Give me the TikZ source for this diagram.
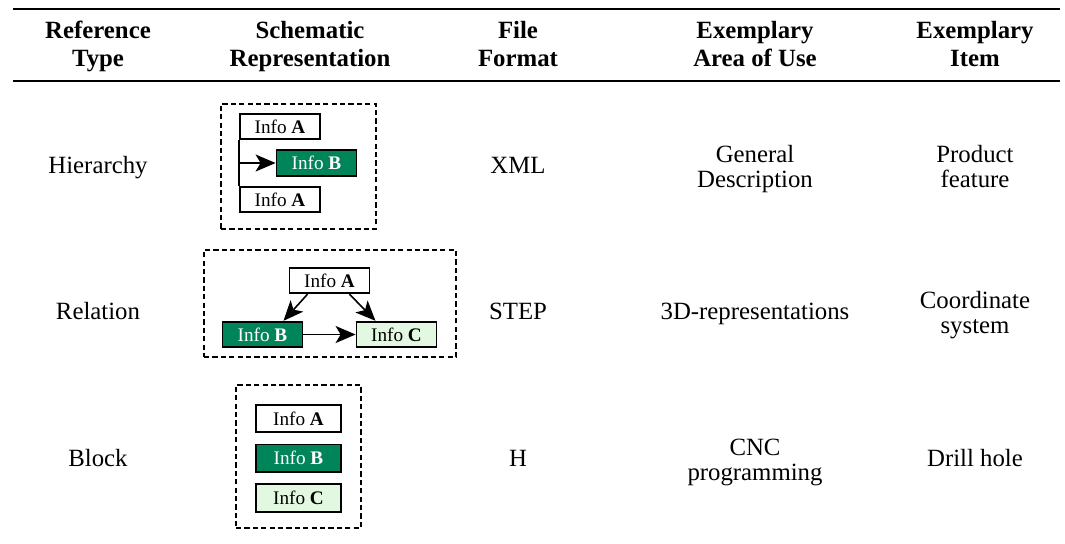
\documentclass[tikz,border=0pt]{standalone}
\usepackage{fontspec}
\setmainfont{Liberation Serif}
\usetikzlibrary{arrows.meta,positioning}
\definecolor{darkgreen}{RGB}{0,133,90}
\definecolor{palegreen}{RGB}{226,248,224}

\begin{document}
\begin{tikzpicture}[x=0.5pt,y=-0.5pt, every node/.style={align=center,font=\fontsize{12.4}{12.75}\selectfont}, cell/.style={anchor=base}, head/.style={anchor=base,font=\fontsize{12.4}{14}\selectfont\bfseries}, info/.style={draw,line width=0.9pt,minimum width=40pt,minimum height=12.8pt,inner sep=0pt,font=\fontsize{9.6}{10}\selectfont}, infoB/.style={info,fill=darkgreen,text=white}, infoC/.style={info,fill=palegreen}, frame/.style={draw,dash pattern=on 2.6pt off 1.6pt,line width=0.75pt,minimum width=#1}, arr/.style={-{Stealth[length=10pt,width=8.5pt,inset=2.5pt]},line width=0.8pt}]
\useasboundingbox (0,0) rectangle (1065,543);
% table rules
\coordinate (tl) at (13,9);\coordinate (tr) at (1060,9);
\coordinate (ml) at (13,81);\coordinate (mr) at (1060,81);
\draw[line width=1pt] (tl)--(tr);
\draw[line width=0.6pt] (ml)--(mr);
% header (anchored on the last baseline)
\node[head] (h1) at (98,66.5) {Reference\\Type};
\node[head] (h2) at (310,66.5) {Schematic\\Representation};
\node[head] (h3) at (518,66.5) {File\\Format};
\node[head] (h4) at (755,66.5) {Exemplary\\Area of Use};
\node[head] (h5) at (975,66.5) {Exemplary\\Item};
% hierarchy row
\node[cell] (t1) at (98,173) {Hierarchy};
\node[frame=77.5pt,minimum height=62.5pt] (f1) at (298.5,166.5) {};
\node[info] (a1) at (280,126.5) {Info \textbf{A}};
\node[infoB] (b1) at (316.5,163) {Info \textbf{B}};
\node[info] (a2) at (280,199.5) {Info \textbf{A}};
\draw[line width=0.8pt] (a1.south west)--(a2.north west);
\draw[arr] (a1.south west |- b1.west)--(b1.west);
\node[cell] (x1) at (518,173) {XML};
\node[cell] (u1) at (755,187.5) {General\\Description};
\node[cell] (i1) at (975,187.5) {Product\\feature};
% relation row
\node[cell] (t2) at (98,319) {Relation};
\node[frame=126pt,minimum height=53.5pt] (f2) at (330,303.5) {};
\node[info] (a3) at (329.5,280.5) {Info \textbf{A}};
\node[infoB] (b2) at (262.5,334.5) {Info \textbf{B}};
\node[infoC] (c2) at (396.5,334.5) {Info \textbf{C}};
\draw[arr] ([xshift=-11pt]a3.south)--([xshift=10.5pt]b2.north);
\draw[arr] ([xshift=10pt]a3.south)--([xshift=-10.5pt]c2.north);
\draw[arr] (b2.east)--(c2.west);
\node[cell] (x2) at (518,319) {STEP};
\node[cell] (u2) at (755,319) {3D-representations};
\node[cell] (i2) at (975,333.5) {Coordinate\\system};
% block row
\node[cell] (t3) at (98,466) {Block};
\node[frame=62.5pt,minimum height=71.5pt] (f3) at (298.5,456.5) {};
\node[info,minimum width=42.5pt,minimum height=13.8pt] (a4) at (298.5,418.5) {Info \textbf{A}};
\node[infoB,minimum width=42.5pt,minimum height=13.8pt,below=5.2pt of a4] (b3) {Info \textbf{B}};
\node[infoC,minimum width=42.5pt,minimum height=13.8pt,below=5.2pt of b3] (c3) {Info \textbf{C}};
\node[cell] (x3) at (518,466) {H};
\node[cell] (u3) at (755,480.5) {CNC\\programming};
\node[cell] (i3) at (975,466) {Drill hole};
\end{tikzpicture}
\end{document}
